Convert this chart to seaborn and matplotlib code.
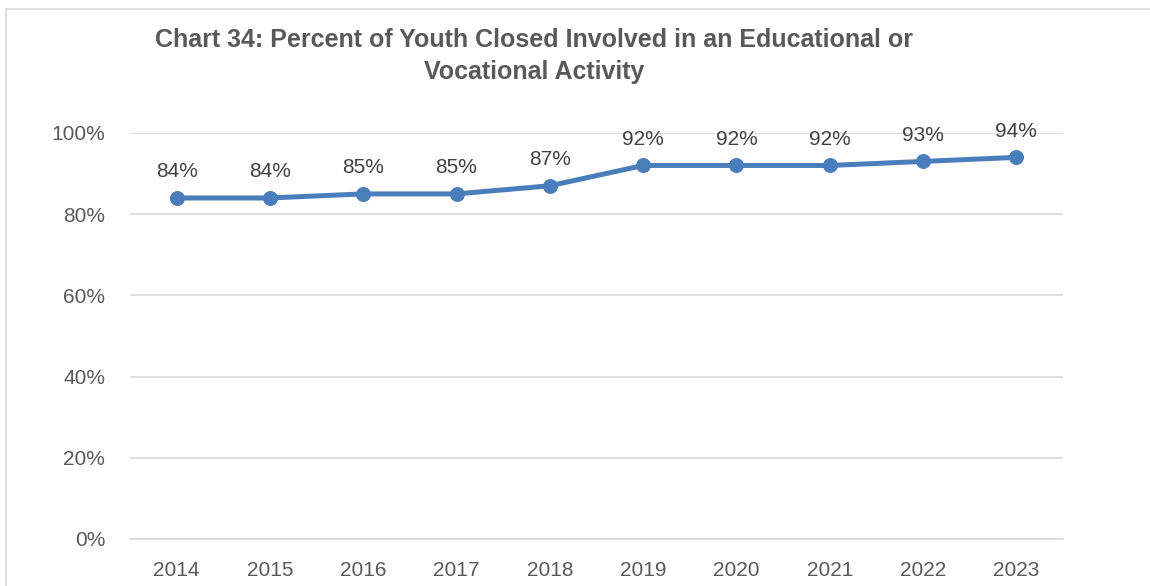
import matplotlib
matplotlib.use("Agg")
import matplotlib.pyplot as plt
import seaborn as sns
import pandas as pd

years = ["2014", "2015", "2016", "2017", "2018", "2019", "2020", "2021", "2022", "2023"]
pct = [0.84, 0.84, 0.85, 0.85, 0.87, 0.92, 0.92, 0.92, 0.93, 0.94]
labels = ["84%", "84%", "85%", "85%", "87%", "92%", "92%", "92%", "93%", "94%"]
yticks = [0, 0.2, 0.4, 0.6, 0.8, 1.0]
ytick_labels = ["0%", "20%", "40%", "60%", "80%", "100%"]

sns.set_style("white")
plt.rcParams["font.family"] = ["Liberation Sans", "DejaVu Sans"]

df = pd.DataFrame({"year": years, "pct": pct})

fig = plt.figure(figsize=(11.5, 5.86), dpi=100)
ax = fig.add_axes([130 / 1150, 1 - 539 / 586, (1063 - 130) / 1150, (539 - 133) / 586])

blue = "#4a7ebb"
sns.lineplot(data=df, x="year", y="pct", ax=ax, color=blue, linewidth=3.6,
             marker="o", markersize=10, markeredgecolor=blue, sort=False)

for i, (v, t) in enumerate(zip(pct, labels)):
    ax.annotate(t, (i, v), xytext=(0, 12), textcoords="offset points",
                ha="center", va="bottom", fontsize=15, color="#404040",
                annotation_clip=False)

ax.set_xlim(-0.5, len(years) - 0.5)
ax.set_ylim(0, 1.0)
ax.set_yticks(yticks)
ax.set_yticklabels(ytick_labels)
ax.yaxis.grid(True, color="#d9d9d9", linewidth=1.2)
ax.set_axisbelow(True)
for s in ["top", "right", "left"]:
    ax.spines[s].set_visible(False)
ax.spines["bottom"].set_color("#d9d9d9")
ax.spines["bottom"].set_linewidth(1.2)
ax.tick_params(axis="both", length=0, labelsize=15, colors="#595959")
ax.tick_params(axis="y", pad=18)
ax.tick_params(axis="x", pad=16)
ax.set_xlabel("")
ax.set_ylabel("")

fig.text(534 / 1150, 1 - 28 / 586,
         "Chart 34: Percent of Youth Closed Involved in an Educational or\nVocational Activity",
         ha="center", va="top", fontsize=18, fontweight="bold", color="#595959",
         linespacing=1.4)

# outer chart border
fig.patches.append(plt.Rectangle((6 / 1150, -0.05), 1.2, 1 - 9 / 586 + 0.05,
                                 transform=fig.transFigure, fill=False,
                                 edgecolor="#d9d9d9", linewidth=1.2))

fig.savefig("out.png", dpi=100)
